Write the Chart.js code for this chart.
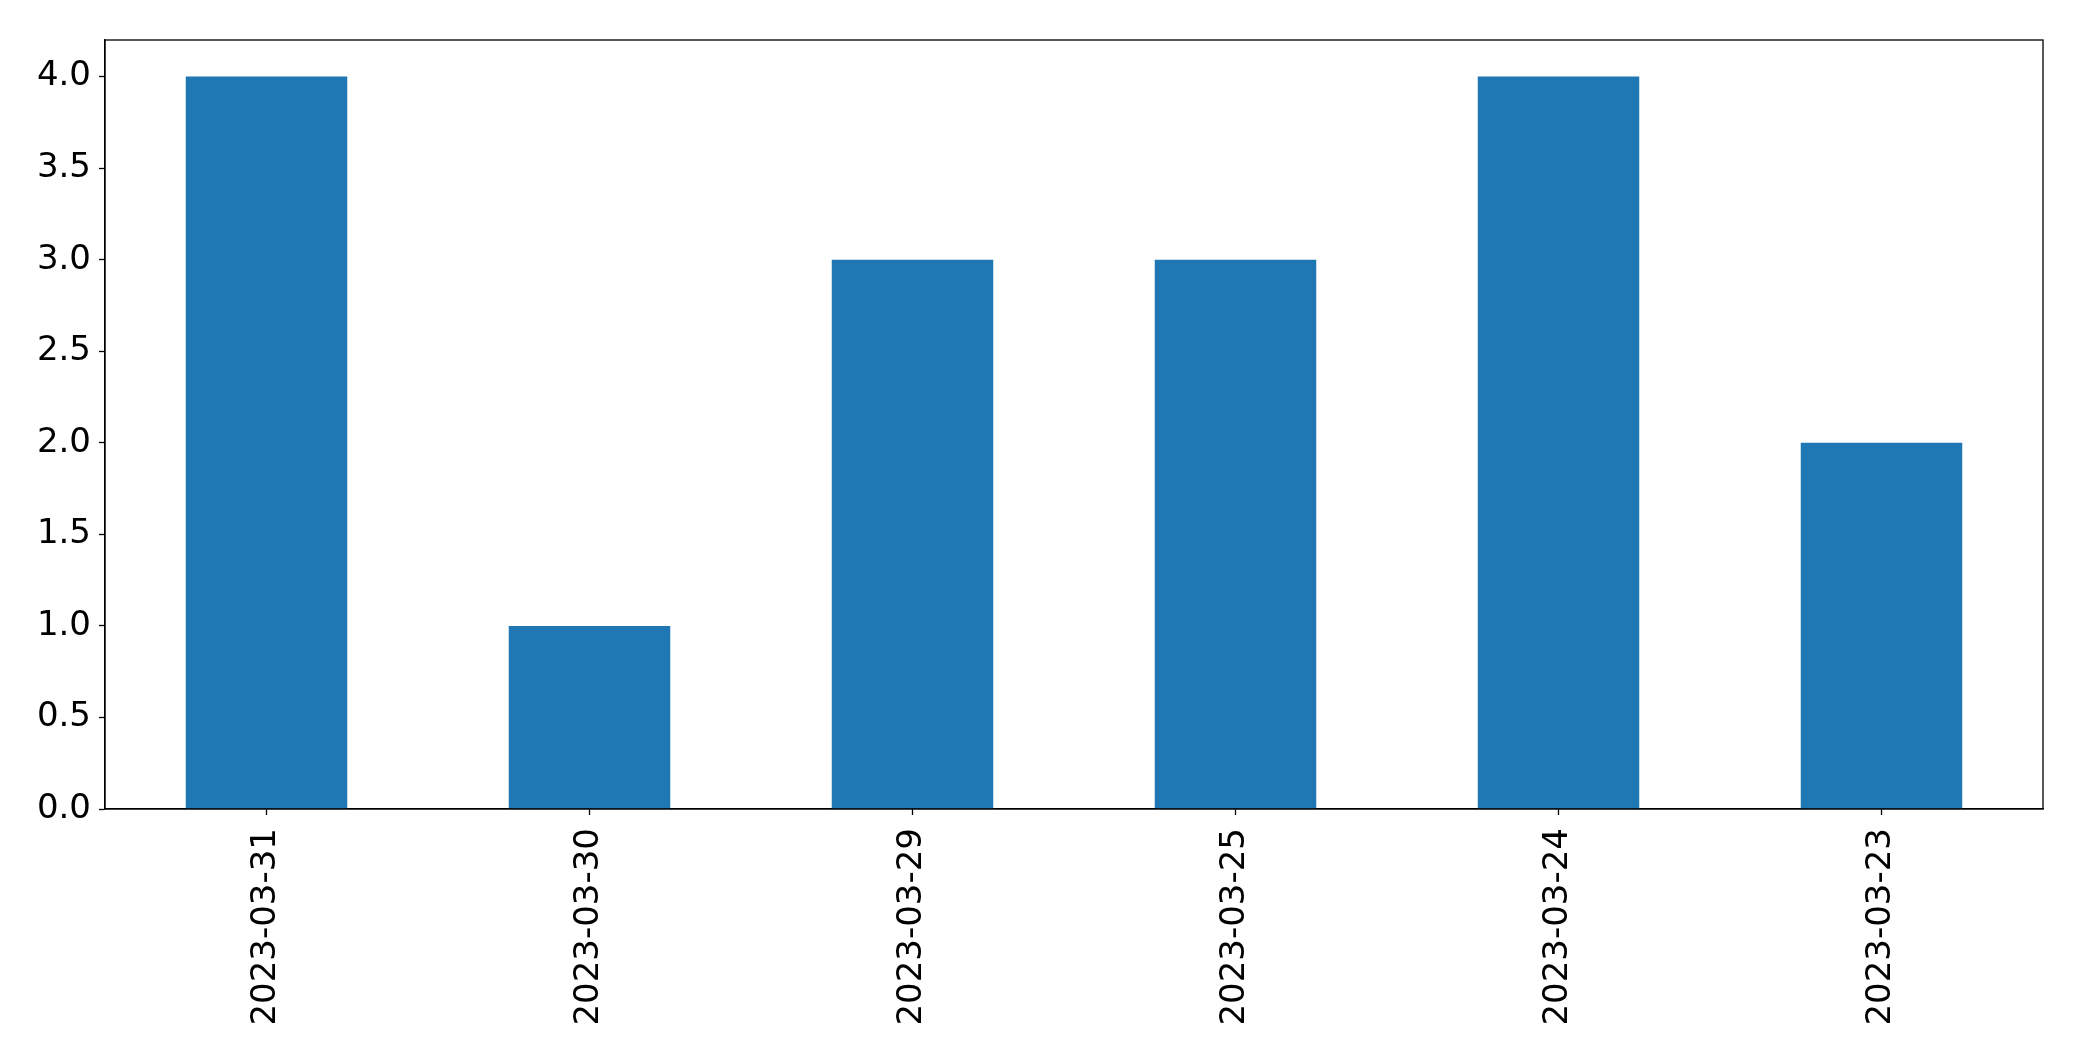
<!DOCTYPE html>
<html>
<head>
<meta charset="utf-8">
<script src="https://cdn.jsdelivr.net/npm/chart.js@4/dist/chart.umd.min.js"></script>
<style>
  html, body { margin: 0; padding: 0; background: #fff; }
  #wrap { width: 2082px; height: 1061px; }
</style>
</head>
<body>
<div id="wrap"><canvas id="barChart" width="2082" height="1061"></canvas></div>
<script>
// data
const dates = ['2023-03-31', '2023-03-30', '2023-03-29', '2023-03-25', '2023-03-24', '2023-03-23'];
const counts = [4, 1, 3, 3, 4, 2];
const yTicks = [0, 0.5, 1, 1.5, 2, 2.5, 3, 3.5, 4];

const ctx = document.getElementById('barChart').getContext('2d');

// top + right spines, matplotlib style box
const frame = {
    id: 'frame',
    afterDraw(chart) {
        const a = chart.chartArea;
        const c = chart.ctx;
        c.save();
        c.strokeStyle = '#000';
        c.lineWidth = 1.3;
        c.strokeRect(a.left, a.top, a.right - a.left, a.bottom - a.top);
        c.restore();
    }
};

new Chart(ctx, {
    type: 'bar',
    data: {
        labels: dates,
        datasets: [{
            data: counts,
            backgroundColor: '#1f77b4',
            borderWidth: 0,
            categoryPercentage: 1.0,
            barPercentage: 0.5
        }]
    },
    options: {
        responsive: false,
        animation: false,
        layout: { padding: { top: 40, right: 39, left: 0, bottom: 0 } },
        plugins: {
            legend: { display: false },
            tooltip: { enabled: false }
        },
        scales: {
            x: {
                grid: { drawOnChartArea: false, offset: false, tickLength: 6, color: '#000', tickWidth: 1.3 },
                border: { display: true, color: '#000', width: 1.3 },
                ticks: {
                    color: '#000',
                    font: { family: 'DejaVu Sans', size: 34 },
                    minRotation: 90,
                    maxRotation: 90,
                    padding: 13,
                    autoSkip: false
                },
                afterFit(scale) { scale.height = 252; }
            },
            y: {
                min: 0,
                max: 4.2,
                grid: { drawOnChartArea: false, tickLength: 6, color: '#000', tickWidth: 1.3 },
                border: { display: true, color: '#000', width: 1.3 },
                afterBuildTicks(scale) {
                    scale.ticks = yTicks.map(v => ({ value: v }));
                },
                ticks: {
                    color: '#000',
                    font: { family: 'DejaVu Sans', size: 34 },
                    padding: 8,
                    callback: v => Number(v).toFixed(1)
                },
                afterFit(scale) { scale.width = 105; }
            }
        }
    },
    plugins: [frame]
});
</script>
</body>
</html>
